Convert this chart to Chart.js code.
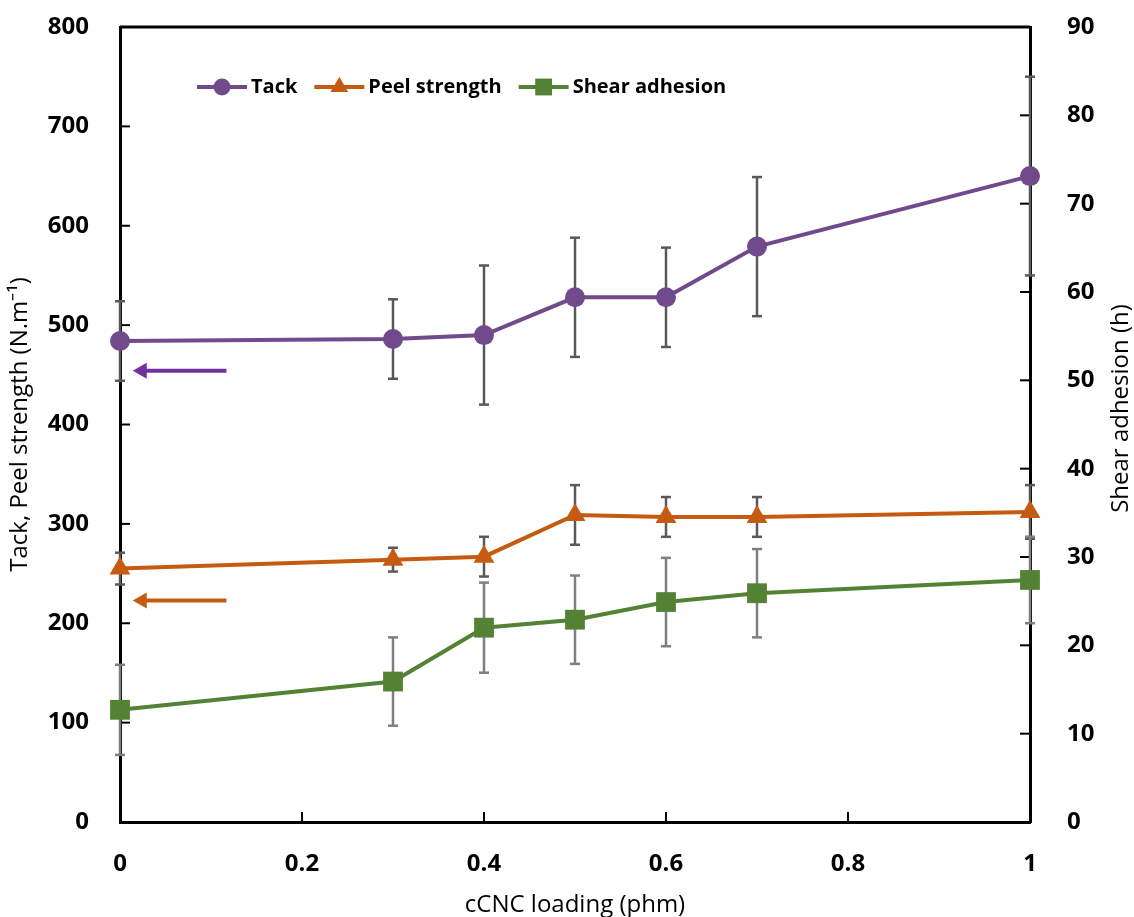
<!DOCTYPE html>
<html>
<head>
<meta charset="utf-8">
<script src="https://cdn.jsdelivr.net/npm/chart.js@4.4.0/dist/chart.umd.min.js"></script>
<style>
  html, body { margin: 0; padding: 0; background: #fff; }
  canvas { display: block; }
</style>
</head>
<body>
<canvas id="adhesion_chart" width="1134" height="917"></canvas>
<script>
// cCNC loading (phm)
const loading = [0, 0.3, 0.4, 0.5, 0.6, 0.7, 1];

// Tack and peel strength, N.m-1 (left axis)
const tack = [484, 486, 490, 528, 528, 579, 650];
const tackErr = [40, 40, 70, 60, 50, 70, 100];
const peel = [255, 264, 267, 309, 307, 307, 312];
const peelErr = [16, 12, 20, 30, 20, 20, 27];

// Shear adhesion, h (right axis)
const shear = [12.7, 15.9, 22.0, 22.9, 24.9, 25.9, 27.4];
const shearErr = [5.1, 5.0, 5.1, 5.0, 5.0, 5.0, 4.9];

// tick values
const xTicks = [0, 0.2, 0.4, 0.6, 0.8, 1];
const leftTicks = [0, 100, 200, 300, 400, 500, 600, 700, 800];
const rightTicks = [0, 10, 20, 30, 40, 50, 60, 70, 80, 90];

// arrows that point the curves to the left axis
const arrowFromX = 0.117;
const arrowToX = 0.014;
const arrowTackY = 454;
const arrowPeelY = 223;

const tickFont = { family: 'Open Sans', size: 24, weight: 'bold' };
const titleFont = { family: 'Open Sans', size: 24, weight: 'normal', lineHeight: 1 };

function pts(ys) {
    return loading.map((x, i) => ({ x: x, y: ys[i] }));
}

function line(ctx, x1, y1, x2, y2) {
    ctx.beginPath();
    ctx.moveTo(x1, y1);
    ctx.lineTo(x2, y2);
    ctx.stroke();
}

function arrow(ctx, scaleX, scaleY, yVal, color) {
    const x1 = scaleX.getPixelForValue(arrowFromX);
    const x2 = scaleX.getPixelForValue(arrowToX);
    const y = scaleY.getPixelForValue(yVal);
    ctx.strokeStyle = color;
    ctx.fillStyle = color;
    ctx.lineWidth = 4;
    line(ctx, x1, y, x2 + 10, y);
    ctx.beginPath();
    ctx.moveTo(x2, y);
    ctx.lineTo(x2 + 14, y - 8);
    ctx.lineTo(x2 + 14, y + 8);
    ctx.closePath();
    ctx.fill();
}

// vertical axes: fixed width, no extra room reserved for the end labels
function fixWidth(w) {
    return s => {
        s.width = w;
        s.paddingTop = 0;
        s.paddingBottom = 0;
    };
}

const decorations = {
    id: 'decorations',
    beforeDatasetsDraw(chart) {
        const { ctx, chartArea: a, scales } = chart;
        ctx.save();
        ctx.strokeStyle = '#000';
        ctx.lineWidth = 3;
        line(ctx, a.left, a.top, a.right, a.top);

        // inward tick marks
        ctx.lineWidth = 2;
        for (const v of leftTicks) {
            const p = scales.y.getPixelForValue(v);
            line(ctx, a.left, p, a.left + 10, p);
        }
        for (const v of rightTicks) {
            const p = scales.y1.getPixelForValue(v);
            line(ctx, a.right - 10, p, a.right, p);
        }
        for (const v of xTicks) {
            const p = scales.x.getPixelForValue(v);
            line(ctx, p, a.bottom - 10, p, a.bottom);
        }

        // error bars
        chart.data.datasets.forEach(ds => {
            const sy = scales[ds.yAxisID];
            ctx.strokeStyle = ds.errColor;
            ctx.lineWidth = 2.5;
            ds.data.forEach((pt, j) => {
                const px = scales.x.getPixelForValue(pt.x);
                const hi = sy.getPixelForValue(pt.y + ds.errors[j]);
                const lo = sy.getPixelForValue(pt.y - ds.errors[j]);
                line(ctx, px, hi, px, lo);
                line(ctx, px - 5, hi, px + 5, hi);
                line(ctx, px - 5, lo, px + 5, lo);
            });
        });
        ctx.restore();
    },
    afterDatasetsDraw(chart) {
        const { ctx, chartArea: a, scales } = chart;
        ctx.save();
        arrow(ctx, scales.x, scales.y, arrowTackY, '#7030A0');
        arrow(ctx, scales.x, scales.y, arrowPeelY, '#C55A11');

        // legend: line + marker + label
        let x = 197;
        const y = 87;
        ctx.font = 'bold 20px "Open Sans"';
        ctx.textBaseline = 'middle';
        ctx.textAlign = 'left';
        chart.data.datasets.forEach(ds => {
            ctx.strokeStyle = ds.borderColor;
            ctx.lineWidth = 4;
            line(ctx, x, y, x + 50, y);
            ctx.fillStyle = ds.borderColor;
            Chart.helpers.drawPoint(ctx, {
                pointStyle: ds.pointStyle,
                radius: ds.pointRadius * 0.85,
                rotation: 0,
                borderWidth: 0
            }, x + 25, y);
            ctx.fillStyle = '#000';
            ctx.fillText(ds.label, x + 54, y);
            x += 54 + ctx.measureText(ds.label).width + 17;
        });

        // right axis title, read bottom to top
        ctx.font = '24px "Open Sans"';
        ctx.textAlign = 'center';
        ctx.translate(1121, (a.top + a.bottom) / 2 - 16);
        ctx.rotate(-Math.PI / 2);
        ctx.fillText('Shear adhesion (h)', 0, 0);
        ctx.restore();
    }
};

const data = {
    datasets: [{
        label: 'Tack',
        data: pts(tack),
        errors: tackErr,
        errColor: '#595959',
        yAxisID: 'y',
        borderColor: '#704A8B',
        backgroundColor: '#704A8B',
        borderWidth: 4,
        pointStyle: 'circle',
        pointRadius: 10,
        pointBorderWidth: 0,
        clip: false
    }, {
        label: 'Peel strength',
        data: pts(peel),
        errors: peelErr,
        errColor: '#595959',
        yAxisID: 'y',
        borderColor: '#C55A11',
        backgroundColor: '#C55A11',
        borderWidth: 4,
        pointStyle: 'triangle',
        pointRadius: 12,
        pointBorderWidth: 0,
        clip: false
    }, {
        label: 'Shear adhesion',
        data: pts(shear),
        errors: shearErr,
        errColor: '#7F7F7F',
        yAxisID: 'y1',
        borderColor: '#548235',
        backgroundColor: '#548235',
        borderWidth: 4,
        pointStyle: 'rect',
        pointRadius: 14,
        pointBorderWidth: 0,
        clip: false
    }]
};

const config = {
    type: 'line',
    data: data,
    options: {
        responsive: false,
        animation: false,
        layout: { padding: { top: 27, left: 0, right: 0, bottom: 0 } },
        plugins: {
            legend: { display: false },
            tooltip: { enabled: false }
        },
        scales: {
            x: {
                type: 'linear',
                min: 0,
                max: 1,
                afterFit: s => {
                    s.height = 95;
                    s.paddingLeft = 0;
                    s.paddingRight = 0;
                },
                grid: { display: false },
                border: { color: '#000', width: 3 },
                ticks: {
                    stepSize: 0.2,
                    padding: 20,
                    color: '#000',
                    font: tickFont,
                    callback: v => +v.toFixed(1)
                },
                title: {
                    display: true,
                    text: 'cCNC loading (phm)',
                    color: '#000',
                    font: titleFont,
                    padding: 0
                }
            },
            y: {
                position: 'left',
                min: 0,
                max: 800,
                afterFit: fixWidth(120),
                grid: { display: false },
                border: { color: '#000', width: 3 },
                ticks: { stepSize: 100, padding: 23, color: '#000', font: tickFont },
                title: {
                    display: true,
                    text: 'Tack, Peel strength (N.m⁻¹)',
                    color: '#000',
                    font: titleFont,
                    padding: { top: 8, bottom: 0 }
                }
            },
            y1: {
                position: 'right',
                min: 0,
                max: 90,
                afterFit: fixWidth(104),
                grid: { display: false },
                border: { color: '#000', width: 3 },
                ticks: { stepSize: 10, padding: 29, color: '#000', font: tickFont }
            }
        }
    },
    plugins: [decorations]
};

const adhesionChart = new Chart(
    document.getElementById('adhesion_chart'),
    config
);
</script>
</body>
</html>
